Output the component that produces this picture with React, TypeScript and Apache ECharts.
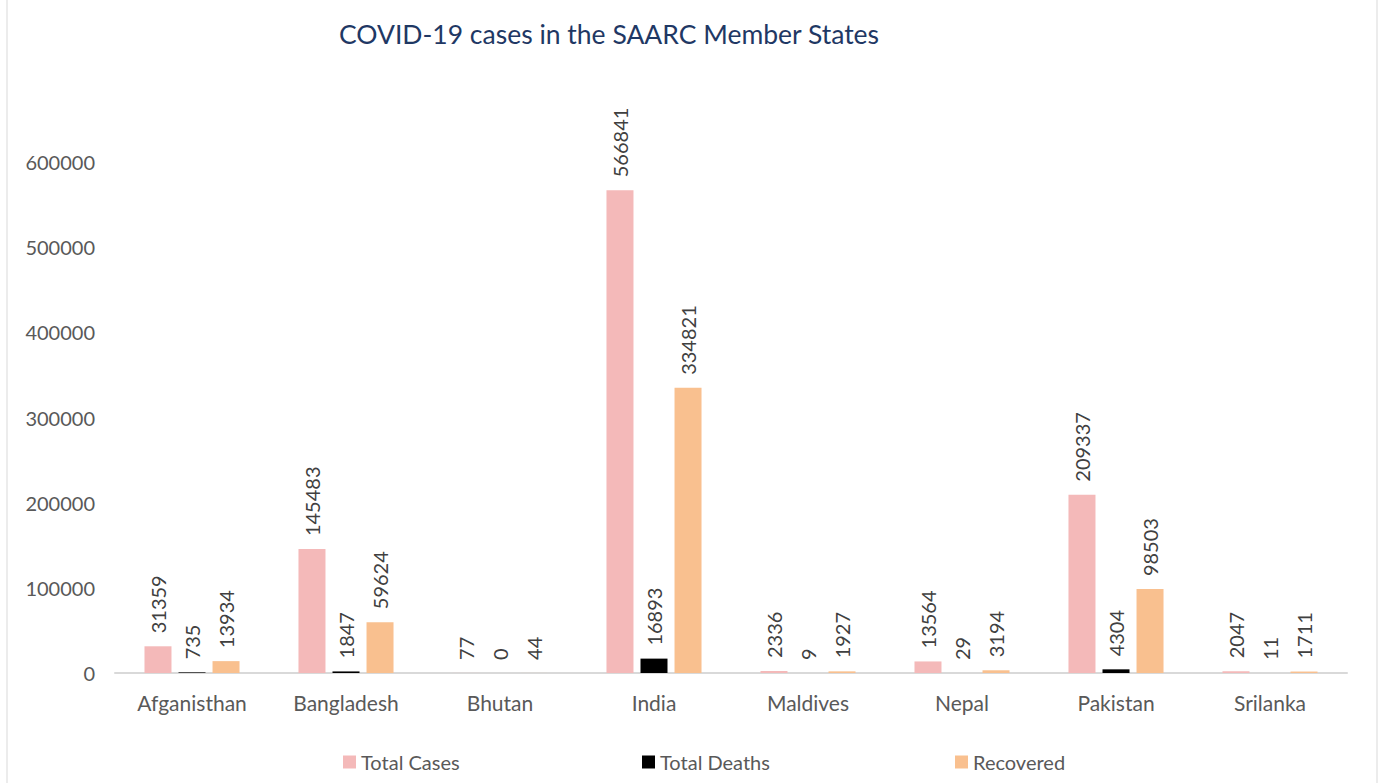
import React, { useEffect, useRef } from "react";
import * as echarts from "echarts";

const categories = ["Afganisthan", "Bangladesh", "Bhutan", "India", "Maldives", "Nepal", "Pakistan", "Srilanka"];
const totalCases = [31359, 145483, 77, 566841, 2336, 13564, 209337, 2047];
const totalDeaths = [735, 1847, 0, 16893, 9, 29, 4304, 11];
const recovered = [13934, 59624, 44, 334821, 1927, 3194, 98503, 1711];
const yTicks = { min: 0, max: 600000, interval: 100000 };

const FONT = "Lato, 'Open Sans', sans-serif";

export default function App() {
  const ref = useRef<HTMLDivElement>(null);
  useEffect(() => {
    document.body.style.margin = "0";
    const chart = echarts.init(ref.current!, null, { renderer: "svg" });
    const label = {
      show: true,
      position: "top",
      rotate: 90,
      align: "left",
      verticalAlign: "middle",
      distance: 13,
      color: "#404040",
      fontSize: 20,
      fontFamily: FONT,
    };
    const mk = (name: string, data: number[], color: string) => ({
      name,
      type: "bar",
      data,
      barWidth: 27,
      barGap: "26%",
      itemStyle: { color },
      label,
    });
    const legendBase = {
      top: 747,
      icon: "rect",
      itemWidth: 13,
      itemHeight: 13,
      itemGap: 4,
      textStyle: { color: "#595959", fontSize: 20, fontFamily: FONT },
    };
    chart.setOption({
      animation: false,
      backgroundColor: "#fff",
      title: {
        text: "COVID-19 cases in the SAARC Member States",
        left: 604,
        textAlign: "center",
        top: 15,
        textStyle: { color: "#1f3864", fontSize: 26.5, fontWeight: "normal", fontFamily: FONT },
      },
      legend: [
        { ...legendBase, left: 338, data: ["Total Cases"] },
        { ...legendBase, left: 637, data: ["Total Deaths"] },
        { ...legendBase, left: 950, data: ["Recovered"] },
      ],
      grid: { left: 115, right: 35, top: 162, bottom: 110, containLabel: false },
      xAxis: {
        type: "category",
        data: categories,
        axisLine: { lineStyle: { color: "#d9d9d9", width: 2 } },
        axisTick: { show: false },
        axisLabel: { color: "#595959", fontSize: 21, fontFamily: FONT, margin: 19 },
      },
      yAxis: {
        type: "value",
        ...yTicks,
        splitLine: { show: false },
        axisLine: { show: false },
        axisTick: { show: false },
        axisLabel: {
          color: "#595959",
          fontSize: 20,
          fontFamily: FONT,
          margin: 20,
          formatter: (v: number) => String(v),
        },
      },
      graphic: [
        { type: "line", shape: { x1: 7, y1: 0, x2: 7, y2: 783 }, style: { stroke: "#d9d9d9", lineWidth: 1 } },
        { type: "line", shape: { x1: 1377, y1: 0, x2: 1377, y2: 783 }, style: { stroke: "#d9d9d9", lineWidth: 1 } },
      ],
      series: [
        mk("Total Cases", totalCases, "#f4b9b9"),
        mk("Total Deaths", totalDeaths, "#000000"),
        mk("Recovered", recovered, "#f9c08f"),
      ],
    });
    return () => chart.dispose();
  }, []);
  return <div ref={ref} style={{ width: 1382, height: 783 }} />;
}
